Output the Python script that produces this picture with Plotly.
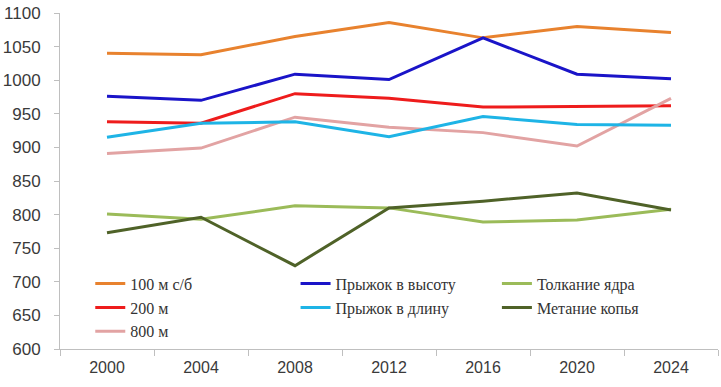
import plotly.graph_objects as go

years = ["2000", "2004", "2008", "2012", "2016", "2020", "2024"]
hurdles100 = [1040, 1038, 1065, 1086, 1063, 1080, 1071]
high_jump = [976, 970, 1009, 1001, 1063, 1009, 1002]
shot_put = [801, 793, 813, 810, 789, 792, 808]
run200 = [938, 936, 980, 973, 960, 961, 962]
long_jump = [915, 936, 938, 916, 946, 934, 933]
javelin = [773, 796, 724, 810, 820, 832, 807]
run800 = [891, 899, 945, 930, 922, 902, 973]

# (name, values, colour, legend column)
series = [
    ("100 м с/б", hurdles100, "#E8822E", "legend"),
    ("200 м", run200, "#EE1C1C", "legend"),
    ("800 м", run800, "#E2A3A3", "legend"),
    ("Прыжок в высоту", high_jump, "#1A14C8", "legend2"),
    ("Прыжок в длину", long_jump, "#1EB4E6", "legend2"),
    ("Толкание ядра", shot_put, "#9BBB59", "legend3"),
    ("Метание копья", javelin, "#4F6228", "legend3"),
]

fig = go.Figure()
for name, vals, col, lg in series:
    fig.add_trace(go.Scatter(x=years, y=vals, name=name, mode="lines",
                             line=dict(color=col, width=3), legend=lg))

legfont = dict(family="Liberation Serif", size=16, color="#333333")
def leg(x):
    return dict(orientation="v", x=x, y=0.245, xanchor="left", yanchor="top",
                itemwidth=30, bgcolor="rgba(0,0,0,0)", font=legfont,
                tracegroupgap=0, traceorder="normal")

fig.update_layout(
    width=721, height=387,
    margin=dict(l=60, r=3, t=13, b=38, autoexpand=False),
    paper_bgcolor="white", plot_bgcolor="white",
    showlegend=True,
    legend=leg(0.046),
    legend2=leg(0.358),
    legend3=leg(0.664),
    xaxis=dict(type="category", showgrid=False, showline=True, linecolor="#BFBFBF",
               linewidth=1, ticks="outside", tickson="boundaries", ticklen=6,
               tickcolor="#BFBFBF", ticklabelstandoff=4, automargin=False,
               tickfont=dict(family="Liberation Sans", size=16, color="#3a3a3a"),
               range=[-0.5, 6.5]),
    yaxis=dict(range=[600, 1100], dtick=50, showgrid=False, showline=True,
               linecolor="#BFBFBF", linewidth=1, ticks="outside", ticklen=5,
               tickcolor="#BFBFBF", ticklabelstandoff=10, automargin=False,
               tickfont=dict(family="Liberation Sans", size=17, color="#3a3a3a")),
)
# remove the browser's default 8px body margin so the figure sits at the page origin
fig.write_html("out.html", config={"displayModeBar": False},
               post_script="document.body.style.margin='0';")
